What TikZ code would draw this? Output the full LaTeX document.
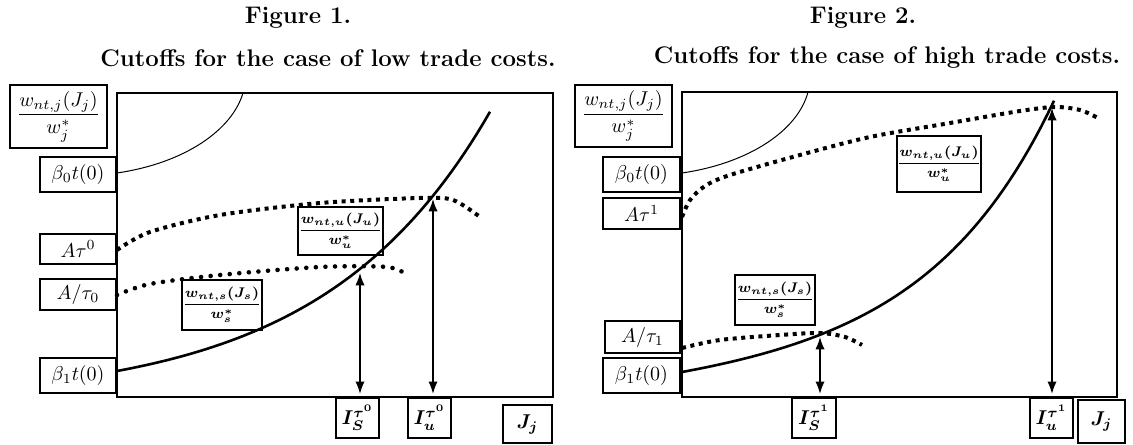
\documentclass[tikz,border=0pt]{standalone}
\usepackage{amsmath,amssymb}
\usetikzlibrary{arrows.meta}

\begin{document}
\begin{tikzpicture}[
    x=0.5pt, y=-0.5pt,
    >=Latex,
    % --- box styles ---
    frame/.style={draw, line width=0.9pt, inner sep=0pt},
    lblbox/.style={draw, line width=0.8pt, inner sep=0pt, align=center},
    boldbox/.style={lblbox, font=\scriptsize\boldmath},
    figtitle/.style={font=\large\bfseries},
    % --- curve styles ---
    thincurve/.style={line width=0.5pt},
    costcurve/.style={line width=1.3pt},
    sqdots/.style={line width=2pt, dash pattern=on 2pt off 2.3pt},
    rddots/.style={line width=2.3pt, line cap=round, dash pattern=on 0pt off 4.8pt},
    cutarrow/.style={<->, line width=0.7pt, shorten >=2pt},
]
\useasboundingbox (0,0) rectangle (1133,444);

% ==== Figure 1 ====
\node[figtitle] (title1) at (298,18) {Figure 1.};
\node[figtitle] (cap1) at (328,58) {Cutoffs for the case of low trade costs.};

\node[frame, minimum width=218pt, minimum height=152pt] (frame1) at (335,245) {};

\node[lblbox, minimum width=48.5pt, minimum height=31.5pt] (wj1) at (58.5,116.5) {$\dfrac{w_{nt,j}(J_j)}{w_j^*}$};
\node[lblbox, minimum width=38pt, minimum height=17.5pt] (b01) at (78,174.5) {$\beta_0 t(0)$};
\node[lblbox, minimum width=38pt, minimum height=15pt] (Atau1) at (78,249) {$A\tau^0$};
\node[lblbox, minimum width=38pt, minimum height=15.5pt] (Adiv1) at (78,294.5) {$A/\tau_0$};
\node[lblbox, minimum width=38pt, minimum height=17.5pt] (b11) at (78,375.5) {$\beta_1 t(0)$};

\node[boldbox, minimum width=40pt, minimum height=25pt] (ws1) at (222,305) {$\dfrac{w_{nt,s}(J_s)}{w_s^*}$};
\node[boldbox, minimum width=42.5pt, minimum height=24pt] (wu1) at (340.5,231) {$\dfrac{w_{nt,u}(J_u)}{w_u^*}$};

\node[lblbox, minimum width=21.5pt, minimum height=20pt, font=\boldmath] (Is1) at (357.5,418) {$I_S^{\tau^0}$};
\node[lblbox, minimum width=21.5pt, minimum height=20pt, font=\boldmath] (Iu1) at (429.5,418) {$I_u^{\tau^0}$};
\node[lblbox, minimum width=24.5pt, minimum height=19pt, font=\boldmath] (Jj1) at (527.5,424) {$J_j$};

% curves
\draw[thincurve] (117,173) .. controls (185,163) and (232,130) .. (243,93);
\draw[sqdots] plot[smooth] coordinates {(117,250) (150,232) (220,215) (320,203) (420,198) (453,200) (480,217)};
\draw[rddots] plot[smooth] coordinates {(117,295) (150,284) (220,275) (320,267) (387,267) (407,275)};
\draw[costcurve] plot[domain=117:490, samples=60] (\x, {371-31*(exp(0.006*(\x-117))-1)});

\coordinate (cs1) at (360,273);
\coordinate (cu1) at (433,199);
\draw[cutarrow] (cs1) -- (cs1 |- frame1.south);
\draw[cutarrow] (cu1) -- (cu1 |- frame1.south);

% ==== Figure 2 ====
\node[figtitle] (title2) at (863,18) {Figure 2.};
\node[figtitle] (cap2) at (887,58) {Cutoffs for the case of high trade costs.};

\node[frame, minimum width=217.5pt, minimum height=152.5pt] (frame2) at (899.5,244.5) {};

\node[lblbox, minimum width=48.5pt, minimum height=31pt] (wj2) at (623.5,116) {$\dfrac{w_{nt,j}(J_j)}{w_j^*}$};
\node[lblbox, minimum width=38.5pt, minimum height=17.5pt] (b02) at (641.5,174.5) {$\beta_0 t(0)$};
\node[lblbox, minimum width=38.5pt, minimum height=15.5pt] (Atau2) at (641.5,213.5) {$A\tau^1$};
\node[lblbox, minimum width=37.5pt, minimum height=16pt] (Adiv2) at (642.5,337) {$A/\tau_1$};
\node[lblbox, minimum width=38.5pt, minimum height=17.5pt] (b12) at (641.5,375.5) {$\beta_1 t(0)$};

\node[boldbox, minimum width=40pt, minimum height=25pt] (ws2) at (775,300) {$\dfrac{w_{nt,s}(J_s)}{w_s^*}$};
\node[boldbox, minimum width=41pt, minimum height=28pt] (wu2) at (939,164) {$\dfrac{w_{nt,u}(J_u)}{w_u^*}$};

\node[lblbox, minimum width=22pt, minimum height=20pt, font=\boldmath] (Is2) at (814,418) {$I_S^{\tau^1}$};
\node[lblbox, minimum width=21.5pt, minimum height=20pt, font=\boldmath] (Iu2) at (1051.5,418) {$I_u^{\tau^1}$};
\node[lblbox, minimum width=23.5pt, minimum height=21.5pt, font=\boldmath] (Jj2) at (1101.5,421.5) {$J_j$};

% curves
\draw[thincurve] (682,173) .. controls (750,163) and (798,130) .. (808,92);
\draw[sqdots] plot[smooth] coordinates {(682,217) (690,200) (705,186) (730,175) (800,155) (870,137) (950,123) (1020,111) (1055,107) (1080,110) (1098,118)};
\draw[sqdots] plot[smooth] coordinates {(682,348) (720,340) (780,335) (820,333) (845,337) (862,345)};
\draw[costcurve] plot[domain=682:1054, samples=60] (\x, {372-0.08*(\x-682)-13*(exp(0.008*(\x-682))-1)});

\coordinate (cs2) at (820,337);
\coordinate (cu2) at (1052,108);
\draw[cutarrow] (cs2) -- (cs2 |- frame2.south);
\draw[cutarrow] (cu2) -- (cu2 |- frame2.south);

\end{tikzpicture}
\end{document}
